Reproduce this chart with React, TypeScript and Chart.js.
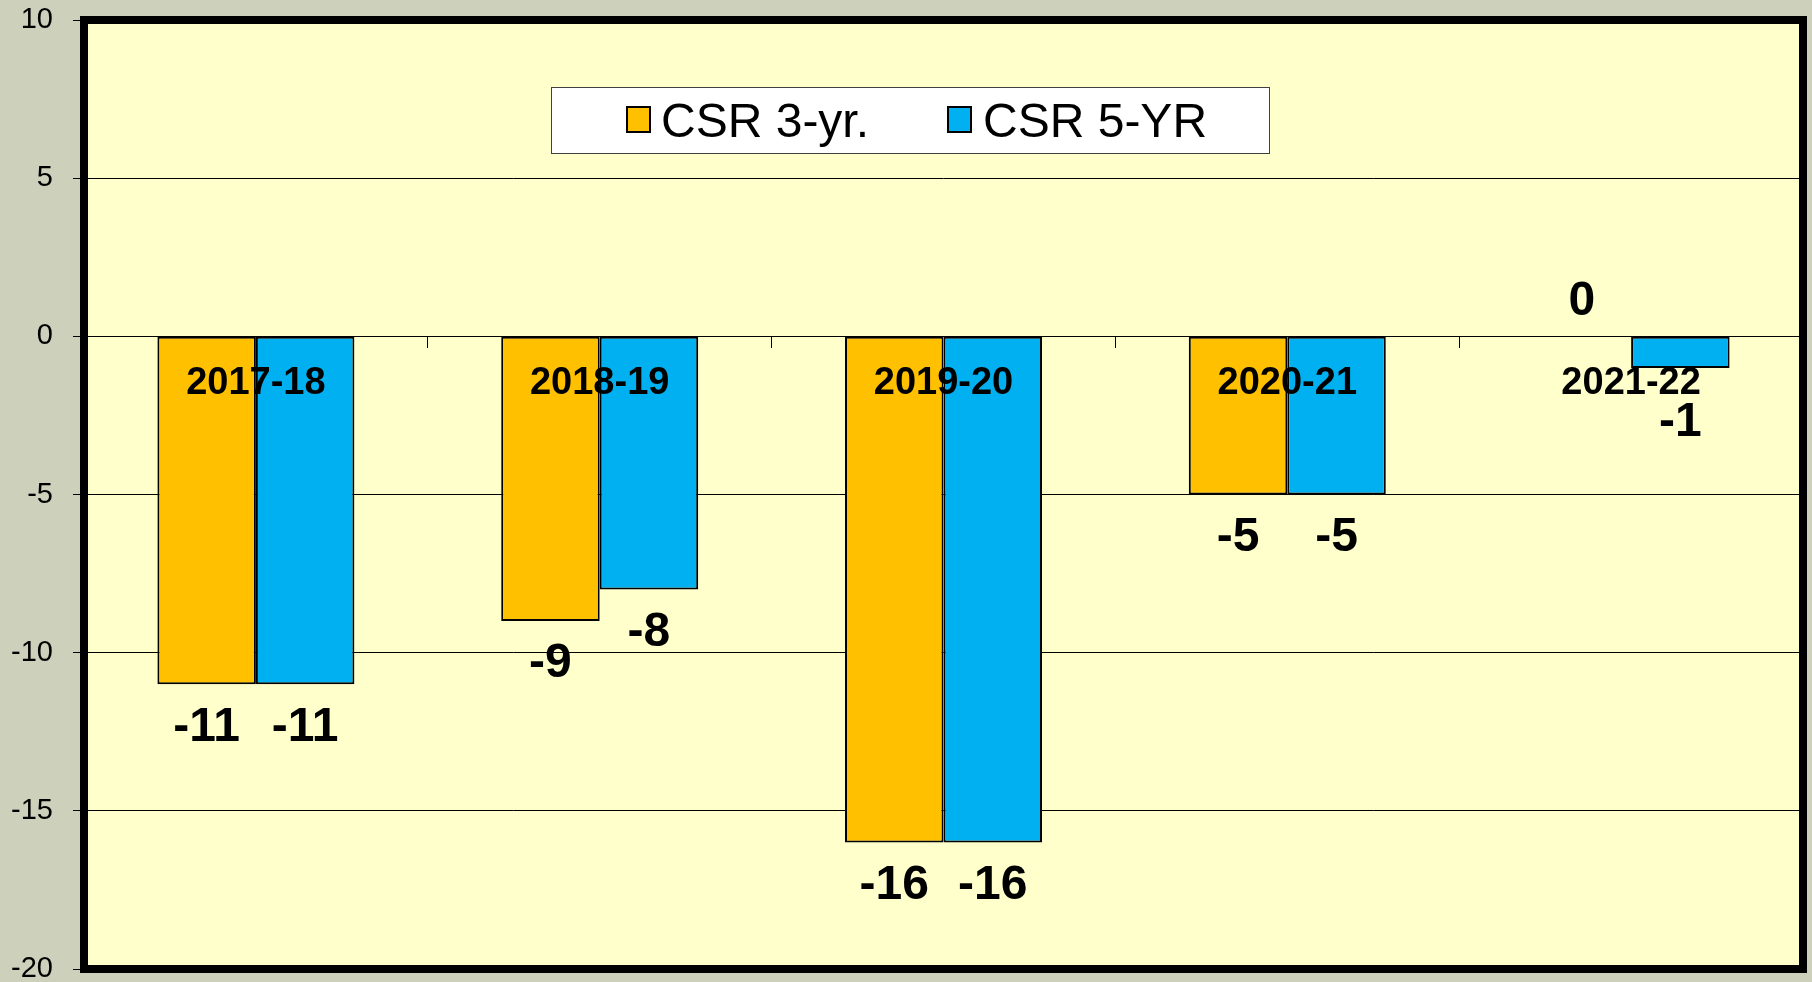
import React, { useEffect, useRef } from "react";
import { Chart, registerables } from "chart.js";

Chart.register(...registerables);

const categories = ["2017-18", "2018-19", "2019-20", "2020-21", "2021-22"];
const csr3Yr = [-11, -9, -16, -5, 0];
const csr5Yr = [-11, -8, -16, -5, -1];
const seriesNames = ["CSR 3-yr.", "CSR 5-YR"];
const seriesColors = ["#FFC000", "#00B0F0"];
const yMin = -20;
const yMax = 10;
const yStep = 5;

const FONT = "'Liberation Sans', Arial, Helvetica, sans-serif";

const framePlugin = {
  id: "frameAndBg",
  beforeDraw(chart: any) {
    const { ctx, chartArea } = chart;
    ctx.save();
    ctx.fillStyle = "#CDD0BB";
    ctx.fillRect(0, 0, chart.width, chart.height);
    ctx.fillStyle = "#FFFFCC";
    ctx.fillRect(chartArea.left, chartArea.top, chartArea.right - chartArea.left, chartArea.bottom - chartArea.top);
    ctx.restore();
  },
  afterDraw(chart: any) {
    const { ctx, chartArea } = chart;
    ctx.save();
    ctx.strokeStyle = "#000000";
    ctx.lineWidth = 8;
    ctx.strokeRect(chartArea.left, chartArea.top, chartArea.right - chartArea.left, chartArea.bottom - chartArea.top);
    ctx.restore();
  },
};

const valueLabelPlugin = {
  id: "valueLabels",
  afterDatasetsDraw(chart: any) {
    const { ctx } = chart;
    const zeroY = chart.scales.y.getPixelForValue(0);
    ctx.save();
    ctx.font = `bold 48px ${FONT}`;
    ctx.fillStyle = "#000000";
    ctx.textAlign = "center";
    ctx.textBaseline = "middle";
    chart.data.datasets.forEach((ds: any, di: number) => {
      const meta = chart.getDatasetMeta(di);
      meta.data.forEach((bar: any, i: number) => {
        const v = ds.data[i];
        let y;
        if (v >= 0) {
          y = bar.y - 35;
        } else {
          y = Math.max(bar.y + 43, zeroY + 86);
        }
        ctx.fillText(String(v), bar.x, y);
      });
    });
    ctx.restore();
  },
};

const legendPlugin = {
  id: "customLegend",
  afterDraw(chart: any) {
    const { ctx, chartArea } = chart;
    const left = chartArea.left + 467;
    const top = chartArea.top + 67;
    const w = 718;
    const h = 66;
    ctx.save();
    ctx.fillStyle = "#FFFFFF";
    ctx.fillRect(left, top, w, h);
    ctx.strokeStyle = "#404040";
    ctx.lineWidth = 1;
    ctx.strokeRect(left + 0.5, top + 0.5, w, h);
    const items = [
      { sw: left + 76, tx: left + 110 },
      { sw: left + 397, tx: left + 432 },
    ];
    items.forEach((it, i) => {
      ctx.fillStyle = seriesColors[i];
      ctx.fillRect(it.sw, top + 20, 23, 25);
      ctx.strokeStyle = "#000000";
      ctx.lineWidth = 2;
      ctx.strokeRect(it.sw, top + 20, 23, 25);
      ctx.font = `48px ${FONT}`;
      ctx.fillStyle = "#000000";
      ctx.textAlign = "left";
      ctx.textBaseline = "alphabetic";
      ctx.fillText(seriesNames[i], it.tx, top + 50);
    });
    ctx.restore();
  },
};

export default function App() {
  const ref = useRef<HTMLCanvasElement | null>(null);
  useEffect(() => {
    if (!ref.current) return;
    const chart = new Chart(ref.current, {
      type: "bar",
      data: {
        labels: categories,
        datasets: [
          {
            label: seriesNames[0],
            data: csr3Yr,
            backgroundColor: seriesColors[0],
            borderColor: "#000000",
            borderWidth: 2,
            borderSkipped: false,
            categoryPercentage: 0.573,
            barPercentage: 1,
          },
          {
            label: seriesNames[1],
            data: csr5Yr,
            backgroundColor: seriesColors[1],
            borderColor: "#000000",
            borderWidth: 2,
            borderSkipped: false,
            categoryPercentage: 0.573,
            barPercentage: 1,
          },
        ],
      },
      options: {
        animation: false,
        responsive: false,
        devicePixelRatio: 1,
        layout: { padding: { left: 0, top: 20, right: 9, bottom: 13 } },
        plugins: {
          legend: { display: false },
          tooltip: { enabled: false },
          title: { display: false },
        },
        scales: {
          x: {
            position: { y: 0 } as any,
            grid: {
              display: true,
              drawOnChartArea: false,
              drawTicks: true,
              tickLength: 11,
              offset: true,
              color: "#000000",
              lineWidth: 1,
            },
            border: { display: true, color: "#000000", width: 1 },
            ticks: {
              z: 1,
              color: "#000000",
              font: { family: FONT, size: 38, weight: "bold" },
              padding: 13,
              maxRotation: 0,
              autoSkip: false,
            },
            afterFit(scale: any) {
              scale.paddingLeft = 0;
              scale.paddingRight = 0;
              scale.paddingTop = 0;
              scale.paddingBottom = 0;
            },
          },
          y: {
            min: yMin,
            max: yMax,
            afterFit(scale: any) {
              scale.width = 84;
              scale.paddingTop = 0;
              scale.paddingBottom = 0;
            },
            grid: {
              color: "#000000",
              lineWidth: 1,
              drawTicks: true,
              tickLength: 11,
            },
            border: { display: false },
            ticks: {
              stepSize: yStep,
              color: "#000000",
              font: { family: FONT, size: 29 },
              padding: 20,
            },
          },
        },
      },
      plugins: [framePlugin, valueLabelPlugin, legendPlugin],
    });
    return () => chart.destroy();
  }, []);
  return (
    <div style={{ position: "fixed", left: 0, top: 0, width: 1812, height: 982, background: "#CDD0BB" }}>
      <canvas ref={ref} width={1812} height={982} style={{ display: "block", width: 1812, height: 982 }} />
    </div>
  );
}
